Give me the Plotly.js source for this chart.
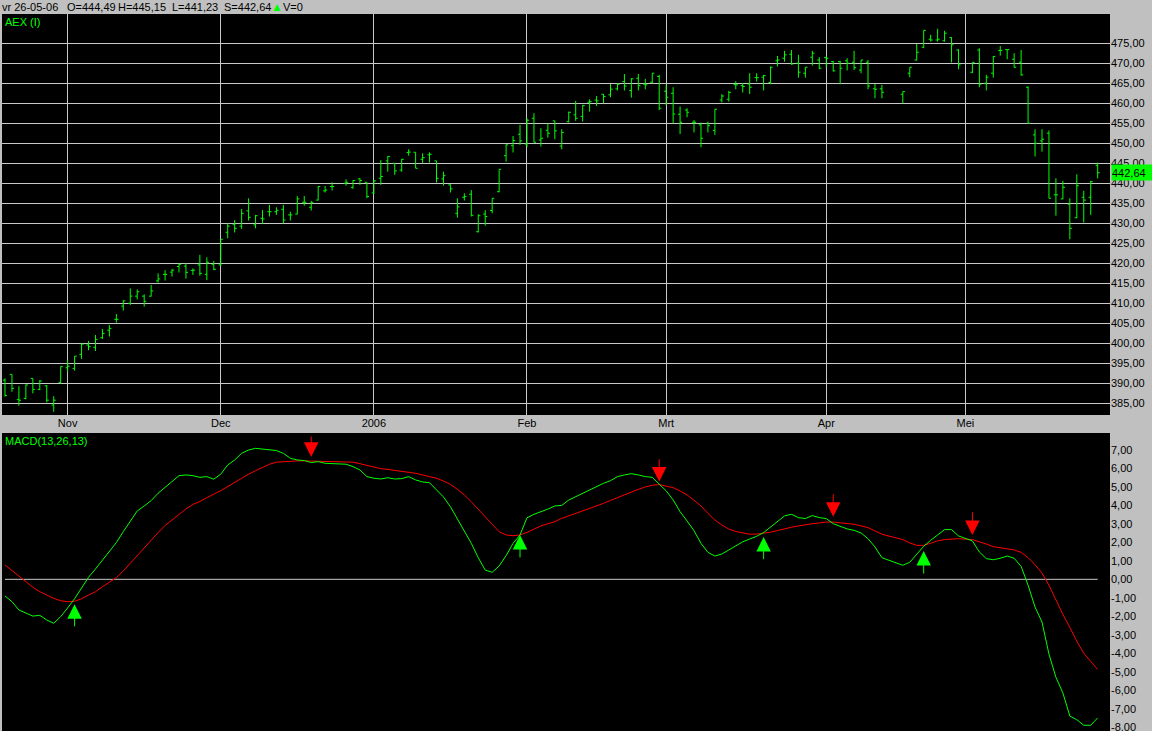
<!DOCTYPE html>
<html>
<head>
<meta charset="utf-8">
<script src="https://cdn.plot.ly/plotly-3.0.1.min.js"></script>
<style>html,body{margin:0;padding:0;background:#c0c0c0;}#chart{width:1152px;height:731px;}</style>
</head>
<body>
<div id="chart"></div>
<script>
// ---- data (index = trading-day slot, starting 19-10-2005; null = exchange closed) ----
const monthIdx    = [9, 31, 53, 75, 95, 118, 138];
const monthLabels = ['Nov', 'Dec', '2006', 'Feb', 'Mrt', 'Apr', 'Mei'];

const opens = [
390.8,392.25,386.0,386.25,391.25,388.5,389.4,384.6,390.25,
393.9,393.75,397.25,399.6,399.0,401.4,403.3,406.0,409.3,410.0,
411.8,411.8,411.8,415.6,417.25,417.8,419.2,419.3,418.2,419.6,
417.25,419.75,
419.6,427.75,429.75,429.3,433.1,429.6,431.25,432.9,432.9,433.5,
432.1,432.3,435.25,434.0,435.8,438.1,439.2,null,440.0,439.0,
441.1,440.25,
437.6,441.25,445.6,445.0,443.3,447.7,447.75,446.0,447.1,445.6,
441.1,439.6,432.5,436.5,437.25,427.9,432.3,433.2,437.9,446.9,
449.4,452.25,
449.8,456.25,450.8,453.25,455.6,449.3,455.4,457.1,456.7,460.25,
460.8,462.25,462.1,463.6,465.4,463.2,466.25,464.75,465.25,466.7,
463.0,462.5,457.25,458.3,455.25,454.6,455.0,453.2,460.8,461.0,
464.7,464.4,464.8,466.4,466.5,465.2,470.6,471.25,472.25,470.0,
467.5,471.5,470.8,
471.4,470.4,470.4,470.6,470.25,468.3,470.25,463.6,463.6,null,
null,462.25,467.5,470.8,474.0,476.0,475.8,475.6,476.4,473.3,
null,467.75,473.3,465.0,467.5,473.2,473.4,471.0,470.25,464.0,
452.1,450.6,452.5,437.1,436.1,434.75,431.4,436.5,436.5,444.49];

const highs = [
391.25,392.25,389.3,389.75,391.25,390.8,389.6,386.8,394.2,
395.8,396.8,400.0,400.6,402.1,403.6,404.6,407.3,410.8,413.75,
413.5,412.25,414.6,417.5,418.3,418.6,420.0,420.0,418.75,422.1,
421.5,420.6,
426.0,430.0,430.8,433.6,436.25,432.1,433.3,434.6,434.0,434.6,
432.9,436.8,436.8,435.6,439.3,439.3,440.25,null,441.0,440.8,
441.25,440.25,
440.8,445.8,446.8,445.0,446.1,448.5,447.75,447.5,447.75,445.6,
442.9,439.75,436.25,437.5,438.3,432.25,433.3,436.25,443.5,449.75,
451.8,454.6,
456.25,457.5,453.75,455.0,455.6,453.5,457.9,460.6,459.6,461.0,
461.8,462.3,464.8,465.0,467.3,466.25,467.3,466.1,467.5,467.1,
464.6,464.0,459.2,458.75,455.8,455.2,455.4,458.5,462.3,463.1,
465.5,465.0,467.5,467.5,467.1,469.2,471.8,473.1,473.3,472.1,
469.0,473.1,471.5,
471.7,470.6,470.6,471.25,473.1,470.8,470.8,464.8,464.6,null,
null,462.9,469.0,474.8,478.2,477.1,478.6,478.1,476.5,473.5,
null,470.2,473.75,467.1,471.8,474.3,473.5,472.5,473.3,464.2,
453.5,453.5,453.2,441.25,440.6,436.25,442.25,438.1,440.6,445.15];

const lows = [
386.7,387.9,384.4,386.0,387.5,388.3,385.25,382.9,390.0,
392.9,393.2,396.1,398.3,398.1,401.1,401.7,405.2,408.2,409.6,
411.0,409.2,411.7,415.2,415.7,416.7,417.7,416.2,417.1,416.9,
415.8,418.3,
419.3,426.25,427.7,428.6,430.7,428.75,429.8,431.7,432.1,430.0,
430.7,432.25,434.4,433.2,435.7,437.7,438.2,null,439.4,438.6,
439.6,436.25,
437.3,439.6,442.9,442.1,442.9,446.9,443.75,445.0,445.2,440.2,
439.4,437.7,431.4,435.7,431.7,427.7,429.4,432.5,437.75,445.4,
447.7,449.6,
449.0,450.2,449.2,451.4,451.0,448.5,455.2,455.6,455.4,457.9,
459.3,460.0,461.5,463.2,463.2,461.4,463.2,463.5,465.0,458.3,
459.5,455.0,452.3,456.5,452.7,449.0,452.7,452.1,460.2,460.4,
463.5,462.7,462.3,465.4,463.2,464.75,469.2,470.4,469.6,466.4,
466.4,469.4,468.5,
468.9,467.9,464.75,468.2,468.3,467.5,463.5,461.25,461.25,null,
null,460.0,466.5,470.7,473.75,475.4,475.4,475.4,470.2,468.5,
null,467.5,464.0,463.2,466.4,471.9,471.0,468.9,466.9,455.0,
446.7,447.9,436.25,431.9,436.0,426.0,431.25,430.2,432.1,441.23];

const closes = [
387.0,388.75,385.8,389.6,388.5,390.6,385.8,385.8,394.2,
394.3,396.8,399.8,399.2,401.0,402.5,403.75,406.0,410.6,411.8,
412.9,410.5,413.1,416.1,417.25,418.3,419.75,417.75,418.3,417.5,
420.25,418.5,
426.0,429.3,428.75,432.5,431.5,431.9,431.1,432.9,433.25,430.8,
432.1,436.1,435.25,435.25,439.2,438.3,439.2,null,440.25,440.7,
440.7,436.7,
440.6,441.7,446.7,443.1,446.0,447.8,443.75,446.4,447.25,441.25,
441.9,438.6,434.1,436.7,432.0,431.9,431.7,436.25,443.5,449.6,
450.7,450.6,
455.75,450.25,451.25,452.5,453.1,452.7,457.75,456.25,459.4,460.4,
460.6,461.7,463.5,464.75,464.3,466.1,464.4,464.6,467.5,458.75,
461.5,457.3,455.25,457.75,455.25,451.25,454.4,458.5,461.8,462.7,
464.6,464.2,464.0,466.4,466.9,469.0,470.8,472.1,469.8,467.75,
469.0,472.5,468.75,
471.25,468.1,468.75,470.0,468.9,470.8,464.3,463.5,462.75,null,
null,462.9,469.0,472.75,478.2,475.8,476.0,477.5,474.6,469.6,
null,470.2,464.75,466.5,471.7,473.2,473.4,469.0,467.1,455.0,
450.0,451.0,436.25,437.1,439.0,428.75,439.4,435.8,440.4,442.64];

const macdLine = [
-0.90,-1.21,-1.66,-1.81,-1.99,-1.95,-2.20,-2.38,-2.02,
-1.55,-1.05,-0.47,0.11,0.56,1.03,1.50,1.99,2.58,3.15,
3.70,3.97,4.26,4.66,4.98,5.29,5.61,5.65,5.61,5.52,
5.56,5.42,
5.69,6.19,6.46,6.82,7.00,7.09,7.04,7.00,6.97,6.82,
6.55,6.46,6.43,6.32,6.37,6.28,6.25,null,6.23,6.10,
5.92,5.56,
5.47,5.43,5.50,5.43,5.45,5.56,5.38,5.27,5.23,4.84,
4.46,3.93,3.25,2.58,1.95,1.17,0.50,0.38,0.72,1.28,
1.95,2.40,
3.33,3.52,3.64,3.80,3.97,4.00,4.29,4.47,4.65,4.87,
5.01,5.20,5.34,5.56,5.65,5.72,5.65,5.56,5.52,5.14,
4.79,4.30,3.66,3.16,2.63,1.95,1.46,1.26,1.37,1.59,
1.80,2.03,2.18,2.33,2.53,2.83,3.16,3.43,3.52,3.34,
3.29,3.45,3.34,
3.29,3.01,2.87,2.73,2.65,2.51,2.20,1.75,1.17,null,
null,0.76,0.92,1.34,1.79,2.11,2.42,2.69,2.69,2.35,
null,2.08,1.48,1.12,1.06,1.14,1.26,1.14,0.70,-0.32,
-1.50,-2.31,-4.05,-5.30,-6.15,-7.40,-7.60,-7.90,-7.90,-7.50];

const signalLine = [
0.78,0.47,0.18,-0.13,-0.43,-0.67,-0.87,-1.03,-1.16,
-1.21,-1.19,-1.05,-0.85,-0.67,-0.40,-0.16,0.09,0.45,0.87,
1.30,1.71,2.15,2.53,2.91,3.21,3.52,3.81,4.06,4.21,
4.42,4.60,
4.80,5.02,5.25,5.47,5.69,5.88,6.06,6.23,6.34,6.37,
6.39,6.41,6.41,6.41,6.41,6.39,6.37,null,6.35,6.34,
6.26,6.16,
6.06,5.99,5.95,5.90,5.87,5.83,5.74,5.65,5.58,5.47,
5.32,5.14,4.87,4.57,4.20,3.81,3.40,2.98,2.58,2.40,
2.36,2.40,
2.54,2.71,2.89,3.01,3.12,3.30,3.43,3.57,3.70,3.84,
3.97,4.11,4.27,4.42,4.60,4.75,4.87,5.00,5.09,5.13,
5.05,4.96,4.78,4.57,4.28,3.97,3.57,3.21,2.94,2.72,
2.59,2.52,2.44,2.45,2.49,2.55,2.64,2.74,2.82,2.89,
2.96,3.01,3.05,
3.10,3.10,3.07,3.03,2.98,2.89,2.80,2.62,2.44,null,
null,2.15,1.97,1.84,1.84,1.95,2.08,2.15,2.18,2.20,
null,2.15,2.04,1.91,1.77,1.71,1.66,1.59,1.46,1.17,
0.79,0.34,-0.32,-1.15,-1.90,-2.60,-3.35,-4.00,-4.45,-4.88];

// MACD crossing signals: slot, arrow tip, arrow tail
const buyIdx   = [10, 74, 109, 132];
const buyTip   = [-1.35, 2.40, 2.29, 1.53];
const buyTail  = [-2.62, 1.10, 1.01, 0.23];
const sellIdx  = [44, 94, 119, 139];
const sellTip  = [6.64, 5.29, 3.39, 2.40];
const sellTail = [7.81, 6.58, 4.69, 3.71];

const priceTicks  = [385,390,395,400,405,410,415,420,425,430,435,440,445,450,455,460,465,470,475];
const priceLabels = ['385,00','390,00','395,00','400,00','405,00','410,00','415,00','420,00','425,00','430,00','435,00','440,00','445,00','450,00','455,00','460,00','465,00','470,00','475,00'];
const macdTicks   = [7,6,5,4,3,2,1,0,-1,-2,-3,-4,-5,-6,-7,-8];
const macdLabels  = ['7,00','6,00','5,00','4,00','3,00','2,00','1,00','0,00','-1,00','-2,00','-3,00','-4,00','-5,00','-6,00','-7,00','-8,00'];

const headerDate = 'vr 26-05-06';
const titleMain = 'AEX (I)';
const titleMacd = 'MACD(13,26,13)';

// ---- build ----
const FONT = 'Liberation Sans, Arial, sans-serif';
const GREEN = '#00ff00', RED = '#ff0000', GRID = '#c8c8c8';
const fmt = v => v.toFixed(2).replace('.', ',');

const ox = [], oo = [], oh = [], ol = [], oc = [];
opens.forEach((v, i) => { if (v !== null) { ox.push(i); oo.push(v); oh.push(highs[i]); ol.push(lows[i]); oc.push(closes[i]); } });
const allIdx = opens.map((_, i) => i);
const last = opens.length - 1;

const traces = [
  {type:'ohlc', x:ox, open:oo, high:oh, low:ol, close:oc, xaxis:'x', yaxis:'y',
   increasing:{line:{color:GREEN, width:1}}, decreasing:{line:{color:GREEN, width:1}},
   tickwidth:0.3, hoverinfo:'skip'},
  {type:'scatter', mode:'lines', x:[allIdx[0], allIdx[last]], y:[0, 0], xaxis:'x2', yaxis:'y2',
   line:{color:GRID, width:1}, hoverinfo:'skip'},
  {type:'scatter', mode:'lines', x:allIdx, y:signalLine, xaxis:'x2', yaxis:'y2', connectgaps:true,
   line:{color:RED, width:1}, hoverinfo:'skip'},
  {type:'scatter', mode:'lines', x:allIdx, y:macdLine, xaxis:'x2', yaxis:'y2', connectgaps:true,
   line:{color:GREEN, width:1}, hoverinfo:'skip'}
];

const L = 2, R = 42, T = 14, W = 1152, H = 731;
const PW = W - L - R, PH = H - T;
const px = p => (p - L) / PW;         // pixel x -> paper
const py = p => (H - p) / PH;         // pixel y -> paper

const ann = [];
function hdr(text, xp, color, size) {
  ann.push({xref:'paper', yref:'paper', x:px(xp), y:py(7), xanchor:'left', yanchor:'middle',
    text:text, showarrow:false, borderpad:0,
    font:{family:FONT, size:size || 11, color:color || '#000'}});
}
hdr(headerDate, 1);
hdr('O=' + fmt(opens[last]), 66);
hdr('H=' + fmt(highs[last]), 117);
hdr('L=' + fmt(lows[last]), 171);
hdr('S=' + fmt(closes[last]), 223);
hdr('\u25B2', 270, GREEN, 12);
hdr('V=0', 282);

ann.push({xref:'paper', yref:'paper', x:px(3), y:py(22), xanchor:'left', yanchor:'middle',
  text:titleMain, showarrow:false, font:{family:FONT, size:11, color:GREEN}});
ann.push({xref:'paper', yref:'paper', x:px(3), y:py(441), xanchor:'left', yanchor:'middle',
  text:titleMacd, showarrow:false, font:{family:FONT, size:11, color:GREEN}});

ann.push({xref:'paper', yref:'y', x:1, y:closes[last], xanchor:'left', yanchor:'middle',
  text:fmt(closes[last]), showarrow:false, bgcolor:GREEN, width:40, height:15, align:'left',
  borderpad:0, xshift:1, font:{family:FONT, size:11, color:'#000'}});

function arrow(i, tip, tail, color) {
  ann.push({xref:'x2', yref:'y2', axref:'x2', ayref:'y2', x:i, y:tip, ax:i, ay:tail, text:'',
    showarrow:true, arrowhead:2, arrowsize:2.9, arrowwidth:1, arrowcolor:color, standoff:0});
}
buyIdx.forEach((v, k) => arrow(v, buyTip[k], buyTail[k], GREEN));
sellIdx.forEach((v, k) => arrow(v, sellTip[k], sellTail[k], RED));

const xr = [-0.43, 158.77];
const layout = {
  width:W, height:H, paper_bgcolor:'#c0c0c0', plot_bgcolor:'#000000',
  margin:{l:L, r:R, t:T, b:0, pad:0}, showlegend:false, separators:',.',
  font:{family:FONT, size:11, color:'#000'},
  xaxis:{domain:[0,1], range:xr, anchor:'y', tickmode:'array', tickvals:monthIdx, ticktext:monthLabels,
    showgrid:true, gridcolor:GRID, gridwidth:1, ticks:'', zeroline:false, showline:false,
    tickfont:{family:FONT, size:11, color:'#000'}, rangeslider:{visible:false}, fixedrange:true},
  xaxis2:{domain:[0,1], range:xr, anchor:'y2', showgrid:false, showticklabels:false, ticks:'',
    zeroline:false, showline:false, fixedrange:true},
  yaxis:{domain:[316/717, 1], range:[382.1, 482.3], side:'right', anchor:'x', tickmode:'array',
    tickvals:priceTicks, ticktext:priceLabels, showgrid:true, gridcolor:GRID, gridwidth:1, ticks:'',
    zeroline:false, showline:false, tickfont:{family:FONT, size:11, color:'#000'}, fixedrange:true},
  yaxis2:{domain:[0, 298/717], range:[-8.21, 7.92], side:'right', anchor:'x2', tickmode:'array',
    tickvals:macdTicks, ticktext:macdLabels, showgrid:false, ticks:'', zeroline:false, showline:false,
    ticklabeloverflow:'allow', tickfont:{family:FONT, size:11, color:'#000'}, fixedrange:true},
  annotations:ann
};

Plotly.newPlot('chart', traces, layout, {staticPlot:true, displayModeBar:false});
</script>
</body>
</html>
